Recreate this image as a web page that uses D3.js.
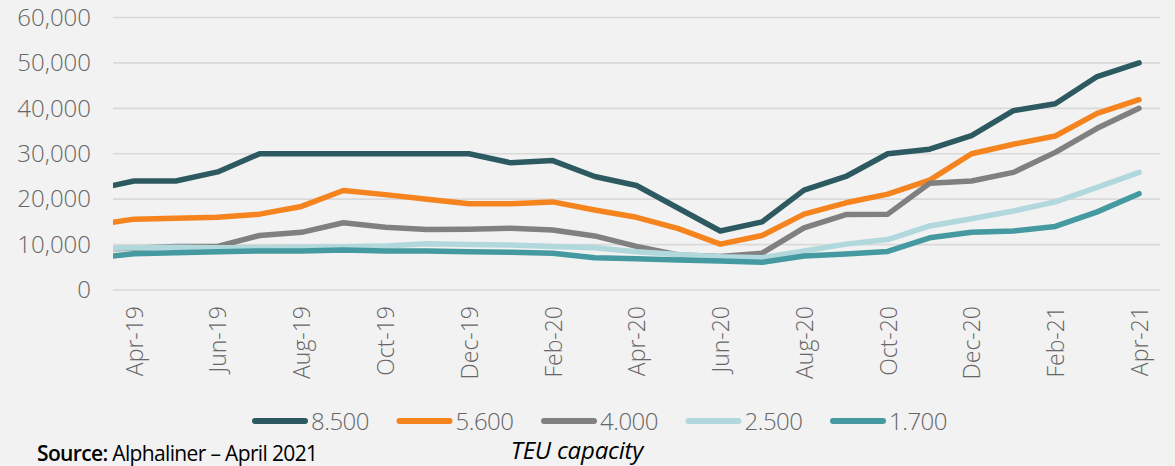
<!DOCTYPE html>
<html>
<head>
<meta charset="utf-8">
<script src="https://cdn.jsdelivr.net/npm/d3@7"></script>
<style>
  html, body { margin: 0; padding: 0; background: #f2f2f2; }
  svg { display: block; }
</style>
</head>
<body>
<svg id="chart" width="1175" height="466"></svg>
<script>
// Months (Mar-19 lies just left of the plot and is clipped, as in the reference)
const months = ["Mar-19","Apr-19","May-19","Jun-19","Jul-19","Aug-19","Sep-19","Oct-19","Nov-19","Dec-19",
  "Jan-20","Feb-20","Mar-20","Apr-20","May-20","Jun-20","Jul-20","Aug-20","Sep-20","Oct-20","Nov-20","Dec-20",
  "Jan-21","Feb-21","Mar-21","Apr-21"];
const tickLabels = ["Apr-19","Jun-19","Aug-19","Oct-19","Dec-19","Feb-20","Apr-20","Jun-20","Aug-20","Oct-20","Dec-20","Feb-21","Apr-21"];
const yTicks = [0, 10000, 20000, 30000, 40000, 50000, 60000];

const seriesNames = ["8.500", "5.600", "4.000", "2.500", "1.700"];
const s8500 = [22000,24000,24000,26000,30000,30000,30000,30000,30000,30000,28000,28500,25000,23000,18000,13000,15000,22000,25000,30000,31000,34000,39500,41000,47000,50000];
const s5600 = [14200,15600,15800,16000,16700,18400,21900,21000,20000,19000,19000,19400,17600,16000,13500,10100,12000,16700,19200,21100,24200,30000,32100,33900,38900,41900];
const s4000 = [9000,9200,9600,9600,12000,12700,14800,13800,13300,13400,13600,13200,11900,9600,7700,7400,8100,13700,16600,16700,23500,24000,25900,30300,35600,40000];
const s2500 = [9100,9300,9400,9300,9300,9400,9500,9700,10200,10000,9900,9600,9300,8400,7800,7300,7100,8600,10100,11100,14100,15700,17400,19400,22600,25900];
const s1700 = [7000,8000,8200,8400,8600,8600,8800,8600,8600,8400,8300,8100,7100,6900,6600,6400,6100,7500,7900,8500,11500,12700,13000,14000,17200,21200];
const seriesValues = [s8500, s5600, s4000, s2500, s1700];
const colors = ["#2d5a61", "#f5841f", "#808080", "#b1d8dc", "#449aa0"];

const svg = d3.select("#chart");
const plotLeft = 113, plotRight = 1160, plotTop = 17.5, plotBottom = 290;
const step = (plotRight - plotLeft) / (months.length - 1);

const x = d3.scalePoint().domain(months)
  .range([plotLeft - step / 2, plotRight - step / 2]);
const y = d3.scaleLinear().domain([0, 60000]).range([plotBottom, plotTop]);

// gridlines
svg.append("g").selectAll("line").data(yTicks).join("line")
  .attr("x1", plotLeft).attr("x2", plotRight)
  .attr("y1", d => y(d)).attr("y2", d => y(d))
  .attr("stroke", "#d9d9d9").attr("stroke-width", 1.6);

// y axis labels
const yAxis = d3.axisLeft(y).tickValues(yTicks).tickFormat(d3.format(",")).tickSize(0).tickPadding(0);
const yg = svg.append("g").attr("transform", `translate(91,0)`).call(yAxis);
yg.select(".domain").remove();
yg.selectAll("text")
  .attr("font-family", "'Open Sans', sans-serif").attr("font-weight", 300)
  .attr("font-size", 24).attr("fill", "#666666");

// x axis labels
const xAxis = d3.axisBottom(x).tickValues(tickLabels).tickSize(0).tickPadding(0);
const xg = svg.append("g").attr("transform", `translate(0,${plotBottom})`).call(xAxis);
xg.select(".domain").remove();
xg.selectAll("text")
  .attr("font-family", "'Open Sans', sans-serif").attr("font-weight", 300)
  .attr("font-size", 23).attr("fill", "#666666")
  .attr("text-anchor", "end")
  .attr("transform", "rotate(-90)")
  .attr("x", -16).attr("y", 0).attr("dy", "0.36em");

// clip
svg.append("clipPath").attr("id", "plotclip").append("rect")
  .attr("x", plotLeft).attr("y", 0).attr("width", plotRight - plotLeft + 10).attr("height", 320);

const line = d3.line().x((d, i) => x(months[i])).y(d => y(d));
svg.append("g").attr("clip-path", "url(#plotclip)")
  .selectAll("path").data(seriesValues).join("path")
  .attr("d", d => line(d))
  .attr("fill", "none")
  .attr("stroke", (d, i) => colors[i])
  .attr("stroke-width", 5.5)
  .attr("stroke-linejoin", "round")
  .attr("stroke-linecap", "round");

// legend
const legX = d3.scaleLinear().domain([0, 1]).range([252, 396.5]);
const leg = svg.append("g").selectAll("g").data(seriesNames).join("g")
  .attr("transform", (d, i) => `translate(${legX(i)},421)`);
leg.append("line").attr("x1", 3).attr("x2", 53).attr("y1", 0).attr("y2", 0)
  .attr("stroke", (d, i) => colors[i]).attr("stroke-width", 6).attr("stroke-linecap", "round");
leg.append("text").attr("x", 59).attr("y", 0).attr("dy", "0.36em")
  .attr("font-family", "'Open Sans', sans-serif").attr("font-weight", 300)
  .attr("font-size", 24).attr("fill", "#666666").attr("letter-spacing", -0.5)
  .text(d => d);

// axis title
svg.append("text").attr("x", 577).attr("y", 459)
  .attr("text-anchor", "middle")
  .attr("font-family", "'Open Sans', sans-serif").attr("font-style", "italic")
  .attr("font-size", 24).attr("fill", "#000").attr("letter-spacing", -0.2)
  .text("TEU capacity");

// source
const src = svg.append("text").attr("x", 37).attr("y", 461)
  .attr("font-family", "'Open Sans', sans-serif")
  .attr("font-size", 21).attr("fill", "#000").attr("letter-spacing", -0.65);
src.append("tspan").attr("font-weight", 600).text("Source:");
src.append("tspan").text(" Alphaliner – April 2021");
</script>
</body>
</html>
